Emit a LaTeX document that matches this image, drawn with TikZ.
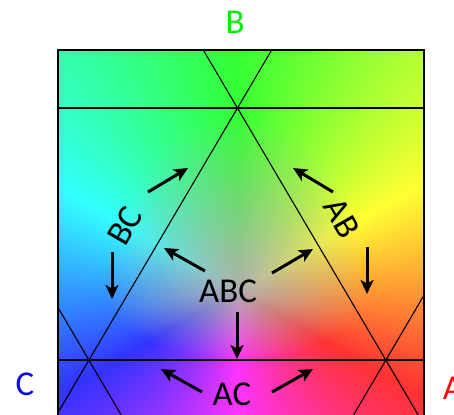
\documentclass[tikz,border=0pt]{standalone}
\usepackage{fontspec}
\setmainfont{Carlito}
\usetikzlibrary{arrows.meta}

\definecolor{setA}{RGB}{255,10,10}
\definecolor{setB}{RGB}{10,235,10}
\definecolor{setC}{RGB}{10,10,240}

% colour field: hue by angle round the ABC centre, grey in the middle
\pgfdeclarefunctionalshading{rgbfield}{\pgfpointorigin}{\pgfpoint{454bp}{414bp}}{}{
  124.01 sub exch 237.01 sub
  2 copy atan 30 add dup 360 ge {360 sub} if
  3 1 roll
  130 div dup mul
  exch dup 0 lt {70 div} {175 div} ifelse dup mul add sqrt
  dup 1 gt {pop 1} if
  exch
  dup 180 sub abs 60 div 1 sub dup 1 gt {pop 1} if dup 0 lt {pop 0} if
  1 index 120 sub abs 60 div 2 exch sub dup 1 gt {pop 1} if dup 0 lt {pop 0} if
  2 index 240 sub abs 60 div 2 exch sub dup 1 gt {pop 1} if dup 0 lt {pop 0} if
  4 -1 roll pop
  0.8 mul 0.49 sub 3 index mul 0.69 add 3 1 roll
  0.8 mul 0.49 sub 3 index mul 0.69 add 3 1 roll
  0.8 mul 0.49 sub 3 index mul 0.69 add 3 1 roll
  4 -1 roll pop
}

\begin{document}
\begin{tikzpicture}[
    x=1bp, y=-1bp,
    % Styles
    primary/.style={font=\fontsize{35}{40}\selectfont, inner sep=0pt, text=#1},
    region/.style={font=\fontsize{35}{40}\selectfont, inner sep=0pt},
    lattice/.style={line width=1.1bp, black},
    pointer/.style={-{Stealth[length=14bp, width=13bp, inset=3.5bp]}, line width=3bp}
]
\useasboundingbox (0,0) rectangle (454,414);

% --- Colour field and lattice ---
\begin{scope}
    \clip (58,50) rectangle (424,430);
    \node[inner sep=0pt, anchor=north west] (field) at (0,0) {\pgfuseshading{rgbfield}};
    % horizontals
    \draw[lattice] (0,108) -- (454,108);
    \draw[lattice] (0,360) -- (454,360);
    % slanted lines
    \draw[lattice] (311.75,-18) -- (14.75,486);
    \draw[lattice] (163.25,-18) -- (460,486);
    \draw[lattice] (14.75,234) -- (163,486);
    \draw[lattice] (460,234) -- (311.75,486);
\end{scope}
\draw[line width=2.6bp] (58,50) rectangle (424,430);

% --- Set labels ---
\node[primary=setB] (B) at (235,22) {B};
\node[primary=setC] (C) at (25,384) {C};
\node[primary=setA] (A) at (453,388) {A};

% --- Region labels ---
\node[region] (abc) at (228,291) {ABC};
\node[region] (ac) at (232,394) {AC};
\node[region, rotate=60] (bc) at (125,226) {BC};
\node[region, rotate=-60] (ab) at (342,218) {AB};

% --- Arrow ends ---
\coordinate (abc-l) at (205,271);  \coordinate (abc-lt) at (164,248);
\coordinate (abc-r) at (272,273);  \coordinate (abc-rt) at (313,249);
\coordinate (abc-d) at (237,312);  \coordinate (abc-dt) at (237,359);
\coordinate (ac-l) at (202,392);   \coordinate (ac-lt) at (161,369);
\coordinate (ac-r) at (272,392);   \coordinate (ac-rt) at (313,369);
\coordinate (bc-u) at (148,192);   \coordinate (bc-ut) at (188,168);
\coordinate (bc-d) at (112,252);   \coordinate (bc-dt) at (112,299);
\coordinate (ab-u) at (333,192);   \coordinate (ab-ut) at (293,168);
\coordinate (ab-d) at (367,247);   \coordinate (ab-dt) at (367,294);

% --- Arrows ---
\draw[pointer] (abc-l) -- (abc-lt);
\draw[pointer] (abc-r) -- (abc-rt);
\draw[pointer] (abc-d) -- (abc-dt);
\draw[pointer] (ac-l) -- (ac-lt);
\draw[pointer] (ac-r) -- (ac-rt);
\draw[pointer] (bc-u) -- (bc-ut);
\draw[pointer] (bc-d) -- (bc-dt);
\draw[pointer] (ab-u) -- (ab-ut);
\draw[pointer] (ab-d) -- (ab-dt);

\end{tikzpicture}
\end{document}
